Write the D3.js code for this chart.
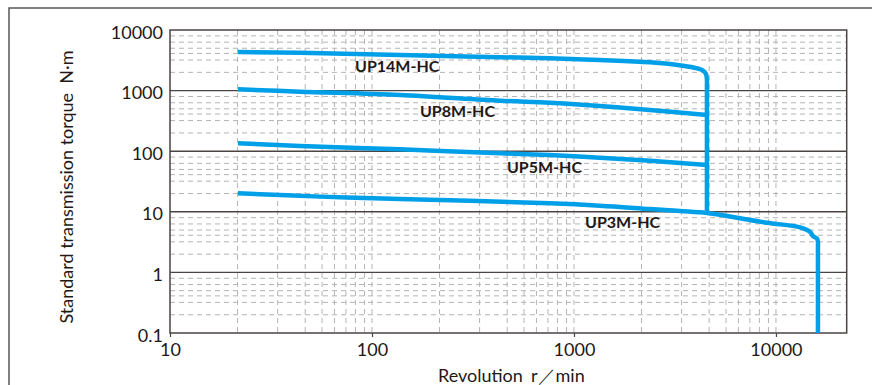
<!DOCTYPE html>
<html><head><meta charset="utf-8">
<script src="https://cdn.jsdelivr.net/npm/d3@7"></script>
<style>body{margin:0;background:#fff}svg{display:block}</style>
</head><body><svg id="c" width="872" height="385"></svg>
<script>
// ---- data ----
const seriesNames = ["UP14M-HC", "UP8M-HC", "UP5M-HC", "UP3M-HC"];
const up14mRpm    = [21.7, 44, 137.6, 760, 1345, 2377, 3465, 4064, 4352, 4504, 4553, 4553, 4553];
const up14mTorque = [4335, 4220, 3868, 3414, 3199, 2931, 2576, 2333, 2146, 1880, 1496, 1200, 9.5];
const up8mRpm     = [21.7, 44, 137.6, 430.5, 760, 1345, 2377, 4553];
const up8mTorque  = [1051, 959, 846, 681, 631, 557, 478, 395];
const up5mRpm     = [21.7, 44, 137.6, 430.5, 760, 1345, 2377, 4553];
const up5mTorque  = [135, 122, 107.5, 92.3, 86.5, 78.2, 69.7, 59.2];
const up3mRpm     = [21.7, 55.3, 137.6, 760, 1345, 2377, 3350, 4553, 6124, 9017, 13150, 14730, 15240, 15950, 16140, 16140, 16140];
const up3mTorque  = [20.2, 17.8, 16.3, 13.8, 12.6, 11.1, 10.3, 9.55, 8.2, 6.6, 5.55, 4.7, 3.98, 3.63, 3.18, 2.6, 0.1];
const labelRpm    = [82.4, 172.8, 465.6, 1134];
const labelTorque = [2005, 371, 43.6, 5.35];
const xTickValues = [10, 100, 1000, 10000];
const xTickLabels = ["10", "100", "1000", "10000"];
const yTickValues = [0.1, 1, 10, 100, 1000, 10000];
const yTickLabels = ["0.1", "1", "10", "100", "1000", "10000"];
const xMinorFactors = [2.16, 3.41, 4.67, 5.66, 6.52, 7.43, 8.28, 9.18];
const yMinorFactors = [2.0, 3.2, 4.1, 5.0, 6.3, 8.0];
const xTitle = "Revolution";
const xUnit = "r／min";
const yTitle = "Standard transmission torque  N·m";

// ---- layout ----
const L = 170, R = 846.7, T = 30, B = 333;
const svg = d3.select("#c");
const x = d3.scaleLog().domain([10, 22400]).range([L, R]);
const y = d3.scaleLog().domain([0.1, 10000]).range([B, T]);
const FONT = "Lato, 'Open Sans', sans-serif";
const dark = "#4a4443";
const blue = "#00a0e9";

// outer frame
svg.append("rect").attr("x", 9).attr("y", 8).attr("width", 900).attr("height", 400)
  .attr("fill", "none").attr("stroke", "#5a5555").attr("stroke-width", 1.5);

const grid = svg.append("g");
const yMinor = [];
[0.1, 1, 10, 100, 1000].forEach(d => yMinorFactors.forEach(f => yMinor.push(d * f)));
grid.selectAll(".hm").data(yMinor).join("line")
  .attr("x1", L).attr("x2", R).attr("y1", d => y(d)).attr("y2", d => y(d))
  .attr("stroke", "#b4b4b4").attr("stroke-width", 1).attr("stroke-dasharray", "5,4");
const xMinor = [];
[10, 100, 1000].forEach(d => xMinorFactors.forEach(f => xMinor.push(d * f)));
grid.selectAll(".vm").data(xMinor.concat([100, 1000, 10000])).join("line")
  .attr("x1", d => x(d)).attr("x2", d => x(d)).attr("y1", T).attr("y2", B)
  .attr("stroke", "#b4b4b4").attr("stroke-width", 1).attr("stroke-dasharray", "5,4");
grid.selectAll(".hM").data(yTickValues.slice(1, -1)).join("line")
  .attr("x1", L).attr("x2", R).attr("y1", d => y(d)).attr("y2", d => y(d))
  .attr("stroke", dark).attr("stroke-width", 1.4);

// plot border
svg.append("rect").attr("x", L).attr("y", T).attr("width", R - L).attr("height", B - T)
  .attr("fill", "none").attr("stroke", dark).attr("stroke-width", 1.5);

// x axis
const xAxis = d3.axisBottom(x).tickValues(xTickValues)
  .tickFormat((d, i) => xTickLabels[i]).tickSize(4).tickPadding(6);
const gx = svg.append("g").attr("transform", `translate(0,${B})`).call(xAxis);
gx.select(".domain").remove();
gx.selectAll(".tick line").attr("stroke", dark).attr("stroke-width", 1.2);
gx.selectAll(".tick text").attr("font-family", FONT).attr("font-size", 18).attr("fill", "#231815");

// y axis
const yAxis = d3.axisLeft(y).tickValues(yTickValues)
  .tickFormat((d, i) => yTickLabels[i]).tickSize(0).tickPadding(7);
const gy = svg.append("g").attr("transform", `translate(${L},0)`).call(yAxis);
gy.select(".domain").remove();
gy.selectAll(".tick text").attr("font-family", FONT).attr("font-size", 18)
  .attr("fill", "#231815").attr("dy", "0.45em");

// series
const series = [
  {name: seriesNames[0], rpm: up14mRpm, tq: up14mTorque},
  {name: seriesNames[1], rpm: up8mRpm, tq: up8mTorque},
  {name: seriesNames[2], rpm: up5mRpm, tq: up5mTorque},
  {name: seriesNames[3], rpm: up3mRpm, tq: up3mTorque},
];
const line = d3.line().x(d => x(d[0])).y(d => y(d[1])).curve(d3.curveCatmullRom.alpha(0.5));
svg.append("g").selectAll("path").data(series).join("path")
  .attr("d", s => line(s.rpm.map((r, i) => [r, s.tq[i]])))
  .attr("fill", "none").attr("stroke", blue).attr("stroke-width", 4.5)
  .attr("stroke-linejoin", "round").attr("stroke-linecap", "butt");

// series labels
svg.append("g").selectAll("text").data(seriesNames).join("text")
  .attr("x", (d, i) => x(labelRpm[i])).attr("y", (d, i) => y(labelTorque[i]))
  .attr("font-family", FONT).attr("font-weight", 700).attr("font-size", 16)
  .attr("fill", "#231815").text(d => d);

// axis titles
const xt = svg.append("text").attr("x", 438).attr("y", 382)
  .attr("font-family", FONT).attr("font-size", 18).attr("fill", "#231815");
xt.append("tspan").text(xTitle);
xt.append("tspan").attr("x", 531).text(xUnit);

svg.append("text").attr("transform", "translate(73,187) rotate(-90)")
  .attr("text-anchor", "middle").attr("font-family", FONT).attr("font-size", 18)
  .attr("fill", "#231815").attr("xml:space", "preserve").text(yTitle);
</script></body></html>
